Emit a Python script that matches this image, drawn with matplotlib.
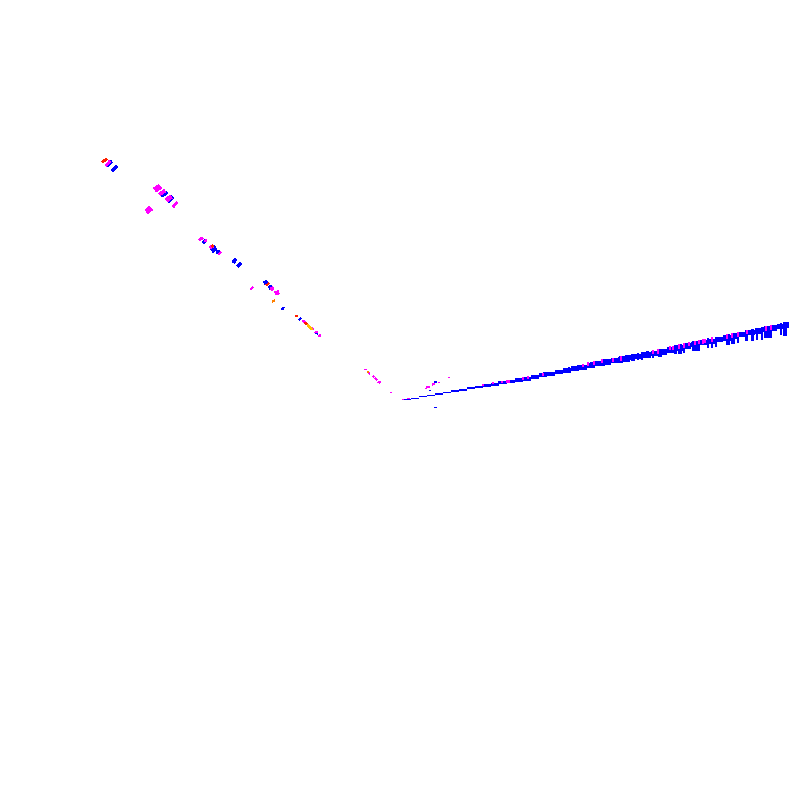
import matplotlib
matplotlib.use('Agg')
import matplotlib.pyplot as plt

# values (x0, y0, x1, y1, thickness) for the left arm
blue_segs = [(107.3, 165.7, 111.7, 161.7, 2), (112.3, 170.7, 116.7, 166.3, 2),
             (161.7, 196, 167, 192, 2.5), (168, 201, 172.5, 197, 3),
             (203.3, 242.7, 205.7, 240.3, 1.5), (211.5, 250, 215.5, 247.5, 5),
             (216.7, 253.3, 218.7, 250.7, 1.5), (233.3, 262.3, 235.7, 259.3, 2.5),
             (237.7, 266.3, 240.7, 263.3, 2), (264.3, 283.3, 266.7, 281.3, 2.5),
             (269.3, 288.3, 271.7, 286.3, 3), (282.3, 309.3, 283.7, 307.3, 1),
             (299, 319.7, 300.7, 318.3, 1), (316, 332.7, 317.7, 333.3, 1.5),
             (429, 390.3, 430, 390.3, 1), (434.5, 382.3, 436.5, 382, 1),
             (434, 407.3, 436, 407.3, 1)]
magenta_segs = [(105.7, 165.7, 110, 161, 1.5), (155, 190, 160, 186.5, 4.5),
                (159.7, 194.3, 164.7, 190.7, 2.5), (166.7, 200, 171, 196.7, 3.5),
                (173.3, 206.7, 177.3, 202.3, 1.5), (146.7, 211.7, 150.7, 208.3, 4.5),
                (199.3, 240, 202.7, 237.7, 1.5), (204.7, 241.5, 206.5, 240, 1),
                (210, 247.7, 213.3, 245.7, 2.5), (218.7, 254.3, 220.7, 252.3, 1),
                (251, 289.3, 252.7, 287.3, 1), (270.7, 289.3, 273.3, 288, 2.5),
                (275.3, 293.3, 278.7, 292.3, 3), (303, 322, 305, 321.7, 2),
                (312, 327.5, 313, 329.5, 1), (315, 332, 317, 332.5, 1),
                (319, 335, 320.5, 335.3, 2),
                (364, 369.3, 366, 369.3, 1), (368.3, 372.7, 369.7, 373.7, 1),
                (373, 376.3, 374, 376.6, 1), (375, 378.3, 376.7, 379.7, 1),
                (378.3, 381.7, 380, 382.7, 1.5), (390, 392.3, 391, 392.3, 1),
                (402, 399.3, 403, 399.3, 1), (407, 398.3, 409, 398.3, 1),
                (424.5, 388.3, 425.5, 388.3, 1), (427, 387.3, 429, 386.8, 1),
                (432.5, 384.3, 434.5, 384, 1.5), (438, 382.3, 439, 382.3, 1),
                (448, 377.3, 449, 377.3, 1)]
red_segs = [(102.3, 162.3, 106.7, 158.7, 1.5), (266.3, 285.3, 268.7, 283.3, 1),
            (295.3, 316, 297.7, 316, 2), (212, 246.5, 213, 245.5, 1.5),
            (305, 323.5, 307, 323, 2)]
orange_segs = [(272.3, 301.7, 274.7, 300.3, 1), (367.5, 371.7, 368.5, 371.9, 1)]
yellow_segs = [(307.7, 325, 312, 329.3, 1.3)]

# right arm: stepped band
band_x = [403, 411, 419, 427, 435, 443, 451, 459, 467, 475, 483, 491, 499, 507, 515, 523, 531,
          539, 547, 555, 563, 571, 579, 587, 595, 603, 611, 619, 627, 635, 643, 651, 659,
          667, 675, 683, 691, 699, 707, 715, 723, 731, 739, 747, 755, 763, 771, 777, 783]
band_width = [8, 8, 8, 8, 8, 8, 8, 8, 8, 8, 8, 8, 8, 8, 8, 8, 8,
              8, 8, 8, 8, 8, 8, 8, 8, 8, 8, 8, 8, 8, 8, 8, 8,
              8, 8, 8, 8, 8, 8, 8, 8, 8, 8, 8, 8, 8, 6, 6, 6]
band_top = [399, 397.5, 396, 394.5, 393, 391.5, 390, 388.5, 387, 385.5, 384, 382.5, 381, 379.5, 378,
            376.5, 375, 373, 371.5, 369.5, 368, 366, 364.5, 362.5, 360.5, 359, 357.5, 356, 354.5,
            353.5, 352, 350.5, 349, 347, 345, 343, 341.5, 340, 338.5, 336.5, 335, 333, 331.5,
            329.5, 328, 326.5, 325, 323.5, 322]
band_thick = [0.5, 1, 1, 1, 1.5, 1.5, 1.5, 2, 2, 2.5, 2.5, 3, 3, 3.5, 3.5, 4, 4, 4, 4, 4.5, 4.5, 5,
              5, 5, 5, 5.5, 5.5, 5.5, 5.5, 5.5, 5.5, 5.5, 5.5, 5.5, 5.5, 5.5, 5, 5, 5, 5.5, 5.5, 5.5,
              5.5, 5.5, 5.5, 5.5, 5.5, 5.5, 6]

# bars hanging under the band
hang_x = [485, 499, 503, 540, 545, 558, 569, 573, 578, 591, 597, 603, 620, 627, 633, 638, 642,
          647, 653, 660, 675, 680, 684, 696, 708, 712, 716, 728, 733, 738, 746, 752,
          757, 762, 768, 781, 785]
hang_width = [1.5, 2, 2, 3, 3.5, 2, 2, 2.5, 2, 3, 4, 3, 5, 5, 3.5, 2.5, 2.5,
              3, 2.5, 4, 3, 3.5, 2, 8, 2, 2, 2, 3.5, 3.5, 2.5, 3, 3,
              2, 2, 8, 2, 3.5]
hang_top = [384, 381, 381, 373, 372, 370, 367, 366, 365, 362, 361, 360, 357, 355, 354, 353, 352,
            351, 350, 349, 345, 344, 343, 341, 338, 337, 337, 334, 333, 332, 330, 329,
            328, 327, 326, 323, 322]
hang_bottom = [386, 383, 383, 376, 376, 373, 371, 371, 371, 368, 366, 366, 363, 361.7, 361, 360, 360,
               358, 358, 357, 354, 354, 353, 351, 348, 348, 347, 345, 344, 343, 341, 341,
               340, 340, 338, 335, 336]

# magenta stripes on the band
stripe_x = [483, 493, 502, 507, 509, 523, 528, 543, 583, 588, 594, 602, 613, 621, 653, 658, 670,
            673, 679, 684, 689, 695, 699, 703, 705, 712, 727, 732, 738, 747, 766, 771]
stripe_top = [384, 382, 381, 380, 379.5, 377, 376, 372.5, 363.5, 362, 361, 359, 357.5, 356, 350,
              349, 346, 345.5, 344, 343, 341.5, 340.5, 339.5, 339, 338.5, 337, 334, 333, 331.5,
              329.5, 326, 325]
stripe_bottom = [386, 384, 383, 382.5, 382.5, 380, 379, 375.5, 367, 366, 365, 363, 361.5, 360.5, 354,
                 353.5, 350, 350, 348.5, 347.5, 346, 345, 344, 343.5, 343, 342, 339, 338, 337,
                 334, 331, 330]

fig = plt.figure(figsize=(8, 8), dpi=100)
ax = fig.add_axes([0, 0, 1, 1])
ax.set_xlim(0, 800)
ax.set_ylim(800, 0)
ax.axis('off')


def draw_segs(segs, color):
    for x0, y0, x1, y1, t in segs:
        ax.plot([x0, x1], [y0, y1], color=color, lw=t * 0.72, solid_capstyle='butt', antialiased=False)


draw_segs(blue_segs, '#0000ff')
draw_segs(magenta_segs, '#ff00ff')
draw_segs(red_segs, '#ff2000')
draw_segs(orange_segs, '#ff8000')
draw_segs(yellow_segs, '#ffc000')

ax.bar(band_x, band_thick, width=band_width, bottom=band_top, align='edge', color='#0000ff', antialiased=False)
ax.bar(hang_x, [b - t for t, b in zip(hang_top, hang_bottom)], width=hang_width, bottom=hang_top,
       color='#0000ff', antialiased=False)
ax.bar(stripe_x, [b - t for t, b in zip(stripe_top, stripe_bottom)], width=2, bottom=stripe_top,
       color='#ff00ff', antialiased=False)

fig.savefig('out.png', dpi=100, facecolor='white')
